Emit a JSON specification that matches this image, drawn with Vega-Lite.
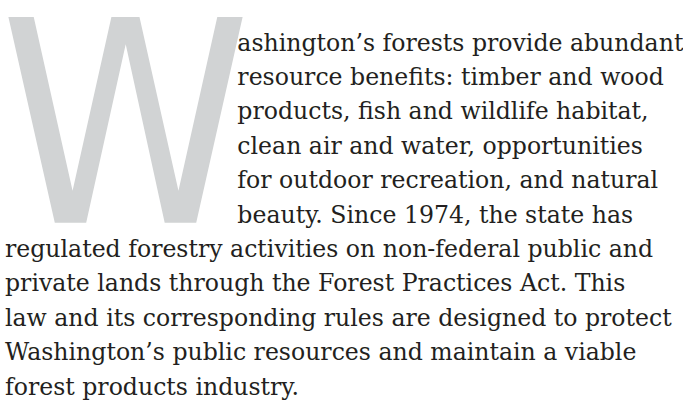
{
  "$schema": "https://vega.github.io/schema/vega-lite/v6.json",
  "width": 683,
  "height": 403,
  "autosize": {"type": "fit", "contains": "padding"},
  "padding": 0,
  "background": "#ffffff",
  "config": {"view": {"stroke": null}},
  "layer": [
    {
      "data": {"values": [{"letter": "W", "line": 6, "indent": 0}]},
      "mark": {"type": "text", "align": "left", "baseline": "alphabetic", "font": "Liberation Sans Narrow, DejaVu Sans Condensed, Roboto", "fontSize": 282, "color": "#d1d3d4", "dx": -5},
      "encoding": {
        "x": {"field": "indent", "type": "quantitative", "scale": {"domain": [-0.0129, 2.918], "nice": false, "zero": false}, "axis": null},
        "y": {"field": "line", "type": "quantitative", "scale": {"domain": [-0.239, 11.242], "reverse": true, "nice": false, "zero": false}, "axis": null},
        "text": {"field": "letter"}
      }
    },
    {
      "data": {"values": [
        {"line": 1, "indent": 1, "text": "ashington’s forests provide abundant"},
        {"line": 2, "indent": 1, "text": "resource benefits: timber and wood"},
        {"line": 3, "indent": 1, "text": "products, fish and wildlife habitat,"},
        {"line": 4, "indent": 1, "text": "clean air and water, opportunities"},
        {"line": 5, "indent": 1, "text": "for outdoor recreation, and natural"},
        {"line": 6, "indent": 1, "text": "beauty. Since 1974, the state has"},
        {"line": 7, "indent": 0, "text": "regulated forestry activities on non-federal public and"},
        {"line": 8, "indent": 0, "text": "private lands through the Forest Practices Act. This"},
        {"line": 9, "indent": 0, "text": "law and its corresponding rules are designed to protect"},
        {"line": 10, "indent": 0, "text": "Washington’s public resources and maintain a viable"},
        {"line": 11, "indent": 0, "text": "forest products industry."}
      ]},
      "mark": {"type": "text", "align": "left", "baseline": "alphabetic", "font": "DejaVu Serif", "fontSize": 23.6, "color": "#231f20"},
      "encoding": {
        "x": {"field": "indent", "type": "quantitative", "scale": {"domain": [-0.0129, 2.918], "nice": false, "zero": false}, "axis": null},
        "y": {"field": "line", "type": "quantitative", "scale": {"domain": [-0.239, 11.242], "reverse": true, "nice": false, "zero": false}, "axis": null},
        "text": {"field": "text"}
      }
    }
  ]
}
